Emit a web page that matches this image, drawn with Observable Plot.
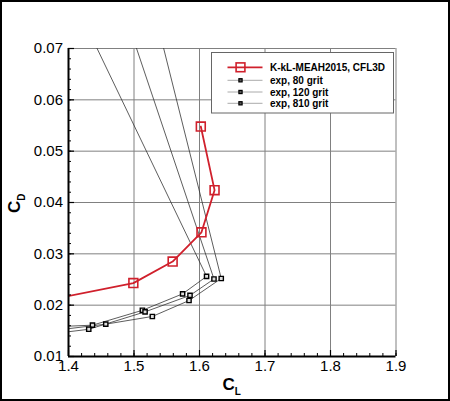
<!DOCTYPE html>
<html><head><meta charset="utf-8">
<script src="https://cdn.jsdelivr.net/npm/d3@7"></script>
<script src="https://cdn.jsdelivr.net/npm/@observablehq/plot@0.6"></script>
<style>
body{margin:0;background:#fff;}
#chart{position:relative;width:450px;height:401px;}
#chart svg{display:block;}
#border{position:absolute;left:0;top:0;width:450px;height:401px;box-sizing:border-box;border:2px solid #000;pointer-events:none;}
</style></head><body>
<div id="chart"><div id="border"></div></div>
<script>
// ---- data ----
const xTicks = [1.4, 1.5, 1.6, 1.7, 1.8, 1.9];
const yTicks = [0.01, 0.02, 0.03, 0.04, 0.05, 0.06, 0.07];

const modelName = "K-kL-MEAH2015, CFL3D";
const modelCL = [1.33, 1.499, 1.559, 1.603, 1.623, 1.602];
const modelCD = [0.0200, 0.0243, 0.0285, 0.0342, 0.0424, 0.0548];

const expNames = ["exp, 80 grit", "exp, 120 grit", "exp, 810 grit"];
const exp80CL  = [1.36, 1.4366, 1.5128, 1.5742, 1.6108, 1.3684];
const exp80CD  = [0.0157, 0.0161, 0.0190, 0.0222, 0.0256, 0.0900];
const exp120CL = [1.36, 1.4309, 1.5169, 1.5855, 1.6221, 1.4513];
const exp120CD = [0.0142, 0.0153, 0.0187, 0.0219, 0.0251, 0.0900];
const exp810CL = [1.36, 1.4569, 1.5280, 1.5840, 1.6332, 1.5061];
const exp810CD = [0.0148, 0.0163, 0.0178, 0.0209, 0.0252, 0.0900];

// ---- tables ----
const model = modelCL.map((cl, i) => ({cl, cd: modelCD[i]}));
const expSets = [[exp80CL, exp80CD], [exp120CL, exp120CD], [exp810CL, exp810CD]];
const exp = expSets.flatMap(([cls, cds], k) => cls.map((cl, i) => ({cl, cd: cds[i], series: expNames[k]})));

const xMinor = d3.ticks(1.4, 1.9, 25);
const yMinor = d3.ticks(0.01, 0.07, 30);

const W = 450, H = 401;
const mL = 68, mR = 54.5, mT = 48, mB = 45;
const innerW = W - mL - mR, innerH = H - mT - mB;
const RED = "#d0202c";
const FONT = "'Liberation Sans', Arial, Helvetica, sans-serif";

const svg = Plot.plot({
  width: W, height: H,
  marginLeft: mL, marginRight: mR, marginTop: mT, marginBottom: mB,
  style: {fontFamily: FONT, fontSize: "15px", color: "#000", background: "#fff", overflow: "visible"},
  x: {domain: [1.4, 1.9], axis: null},
  y: {domain: [0.01, 0.07], axis: null},
  marks: [
    Plot.ruleX(xTicks.slice(1), {stroke: "#808080", strokeWidth: 1}),
    Plot.ruleY(yTicks.slice(1), {stroke: "#808080", strokeWidth: 1}),
    Plot.line(exp, {x: "cl", y: "cd", z: "series", stroke: "#333", strokeWidth: 0.8, clip: true}),
    Plot.dot(exp, {x: "cl", y: "cd", symbol: "square", r: 2.4, stroke: "#000", strokeWidth: 1.4, fill: "#ddd", clip: true}),
    Plot.line(model, {x: "cl", y: "cd", stroke: RED, strokeWidth: 1.8, clip: true}),
    Plot.dot(model, {x: "cl", y: "cd", symbol: "square", r: 5, stroke: RED, strokeWidth: 1.6, fill: "none", clip: true}),
    // axis lines
    Plot.ruleX([1.4], {stroke: "#000", strokeWidth: 2}),
    Plot.ruleY([0.01], {stroke: "#000", strokeWidth: 2}),
    // inward ticks
    Plot.ruleX(xTicks, {stroke: "#000", strokeWidth: 1.2, insetTop: innerH - 6}),
    Plot.ruleX(xMinor, {stroke: "#000", strokeWidth: 1, insetTop: innerH - 3}),
    Plot.ruleY(yTicks, {stroke: "#000", strokeWidth: 1.2, insetRight: innerW - 6}),
    Plot.ruleY(yMinor, {stroke: "#000", strokeWidth: 1, insetRight: innerW - 3}),
    Plot.axisX(xTicks, {tickSize: 0, tickPadding: 4, tickFormat: d3.format(".1f"), label: null, fontSize: 15}),
    Plot.axisY(yTicks, {tickSize: 0, tickPadding: 5.5, tickFormat: d3.format(".2f"), label: null, fontSize: 15})
  ]
});

const s = d3.select(svg);

// axis titles
const xt = s.append("text").attr("x", 222.5).attr("y", 390).attr("text-anchor", "start")
  .attr("font-family", FONT).attr("font-weight", "bold").attr("font-size", 17).attr("fill", "#000");
xt.append("tspan").text("C");
xt.append("tspan").attr("font-size", 10).attr("dy", 5).text("L");

const yt = s.append("text").attr("transform", "translate(19.5,213) rotate(-90)").attr("text-anchor", "start")
  .attr("font-family", FONT).attr("font-weight", "bold").attr("font-size", 17).attr("fill", "#000");
yt.append("tspan").text("C");
yt.append("tspan").attr("font-size", 10).attr("dy", 5).text("D");

// legend
const lg = s.append("g").attr("text-anchor", "start");
lg.append("rect").attr("x", 211.5).attr("y", 52.5).attr("width", 182).attr("height", 60.5)
  .attr("fill", "#fff").attr("stroke", "#666").attr("stroke-width", 1);
const entries = [{name: modelName, y: 67.3, model: true}]
  .concat(expNames.map((n, i) => ({name: n, y: [80.3, 92, 103.3][i], model: false})));
entries.forEach(e => {
  lg.append("line").attr("x1", 227.5).attr("x2", 262.5).attr("y1", e.y).attr("y2", e.y)
    .attr("stroke", e.model ? RED : "#aaa").attr("stroke-width", e.model ? 1.8 : 1);
  const sz = e.model ? 8.8 : 3.2;
  lg.append("rect").attr("x", 240.5 - sz / 2).attr("y", e.y - sz / 2).attr("width", sz).attr("height", sz)
    .attr("fill", e.model ? "none" : "#555").attr("stroke", e.model ? RED : "#000")
    .attr("stroke-width", e.model ? 1.6 : 1.2);
  lg.append("text").attr("x", 270).attr("y", e.y).attr("dy", "0.35em").attr("text-anchor", "start")
    .attr("font-family", FONT).attr("font-weight", "bold").attr("font-size", 10).attr("fill", "#000")
    .text(e.name);
});

document.getElementById("chart").prepend(svg);
</script>
</body></html>
